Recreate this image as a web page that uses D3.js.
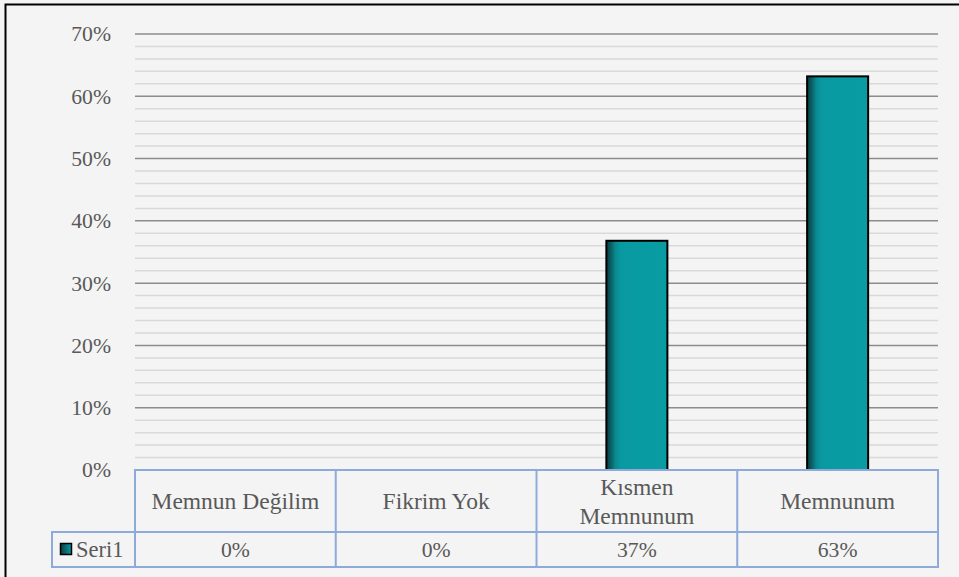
<!DOCTYPE html>
<html><head><meta charset="utf-8">
<script src="https://cdn.jsdelivr.net/npm/d3@7/dist/d3.min.js"></script>
<style>
html,body{margin:0;padding:0;background:#fff;}
svg{display:block;}
svg text{font-family:'Liberation Serif' !important;}
</style></head>
<body>
<svg id="chart" width="959" height="577"></svg>
<script>
const categories = ["Memnun Değilim", "Fikrim Yok", "Kısmen Memnunum", "Memnunum"];
const seriesName = "Seri1";
const values = [0, 0, 0.368, 0.632];
const valueLabels = ["0%", "0%", "37%", "63%"];
const yTicks = [0, 0.1, 0.2, 0.3, 0.4, 0.5, 0.6, 0.7];
const yMinorTicks = d3.range(0, 0.7001, 0.02);

(function(){
const FONT = "Liberation Serif";
const svg = d3.select("#chart");
const W = 959, H = 577;
const pLeft = 135, pRight = 938, pTop = 34, pBottom = 470;
const row1 = 532, row2 = 567, legendLeft = 52;
const fs = 21.7, fsCat = 23.5, fsLeg = 22.5;
const txt = (sel, size) => sel.attr("font-family",FONT).style("font-family",FONT).style("font-size",(size||fs)+"px").attr("fill","#595959");

svg.append("rect").attr("x",0).attr("y",0).attr("width",W).attr("height",H).attr("fill","#f4f4f4");
svg.append("rect").attr("x",5.5).attr("y",4.5).attr("width",1100).attr("height",1000)
  .attr("fill","none").attr("stroke","#000").attr("stroke-width",2);

const defs = svg.append("defs");
const g1 = defs.append("linearGradient").attr("id","barGrad").attr("x1","0%").attr("x2","100%").attr("y1","0%").attr("y2","0%");
[[0,"#0b3c40"],[0.07,"#0a5d62"],[0.15,"#0a8990"],[0.24,"#099aa1"],[1,"#099ca3"]].forEach(s=>g1.append("stop").attr("offset",s[0]).attr("stop-color",s[1]));

const y = d3.scaleLinear().domain([0,0.7]).range([pBottom, pTop]);
const x = d3.scaleBand().domain(categories).range([pLeft, pRight]).paddingInner(0.696).paddingOuter(0.348);
const xc = d3.scaleBand().domain(categories).range([pLeft, pRight]);

svg.append("g").selectAll("line").data(yMinorTicks.filter(t => Math.round(t*100)%10 !== 0)).join("line")
  .attr("x1",pLeft).attr("x2",pRight).attr("y1",d=>y(d)).attr("y2",d=>y(d))
  .attr("stroke","#d9d9d9").attr("stroke-width",1.5);
svg.append("g").selectAll("line").data(yTicks).join("line")
  .attr("x1",pLeft).attr("x2",pRight).attr("y1",d=>y(d)).attr("y2",d=>y(d))
  .attr("stroke","#8c8c8c").attr("stroke-width",1.5);

const yAxis = d3.axisLeft(y).tickValues(yTicks).tickFormat(d3.format(".0%")).tickSize(0).tickPadding(0);
const ya = svg.append("g").attr("transform",`translate(111,0)`).call(yAxis)
  .attr("font-family", FONT).attr("font-size", fs);
ya.select(".domain").remove();
ya.selectAll("text").call(txt, fs).attr("dy","0.32em");

svg.append("g").selectAll("rect").data(values).join("rect")
  .attr("x",(d,i)=>x(categories[i])).attr("width",x.bandwidth())
  .attr("y",d=>y(d)).attr("height",d=>pBottom - y(d))
  .attr("fill","url(#barGrad)").attr("stroke","#000").attr("stroke-width",2)
  .style("display",d=>d>0?null:"none");

const tb = svg.append("g").attr("font-family",FONT);
const tcol = "#8eaadb";
tb.append("rect").attr("x",pLeft).attr("y",pBottom).attr("width",pRight-pLeft).attr("height",row2-pBottom)
  .attr("fill","none").attr("stroke",tcol).attr("stroke-width",2);
tb.append("line").attr("x1",legendLeft).attr("x2",pRight).attr("y1",row1).attr("y2",row1).attr("stroke",tcol).attr("stroke-width",2);
tb.append("rect").attr("x",legendLeft).attr("y",row1).attr("width",pLeft-legendLeft).attr("height",row2-row1)
  .attr("fill","none").attr("stroke",tcol).attr("stroke-width",2);
tb.selectAll(".vl").data(categories.slice(1)).join("line").attr("class","vl")
  .attr("x1",d=>xc(d)).attr("x2",d=>xc(d)).attr("y1",pBottom).attr("y2",row2)
  .attr("stroke",tcol).attr("stroke-width",2);

categories.forEach((c,i)=>{
  const cx = xc(c) + xc.bandwidth()/2;
  const t = tb.append("text").call(txt, fsCat).attr("x",cx).attr("text-anchor","middle").text(c);
  const len = t.node().getComputedTextLength();
  const midY = (pBottom+row1)/2;
  if (len > xc.bandwidth() - 15) {
    const words = c.split(" ");
    t.text(null);
    const lh = 29;
    words.forEach((w,k)=>{
      t.append("tspan").attr("x",cx).attr("y", midY + (k - (words.length-1)/2)*lh).attr("dy","0.35em").text(w);
    });
  } else {
    t.attr("y",midY).attr("dy","0.35em");
  }
});
tb.selectAll(".val").data(valueLabels).join("text").attr("class","val").call(txt, fs)
  .attr("x",(d,i)=>xc(categories[i]) + xc.bandwidth()/2).attr("y",(row1+row2)/2).attr("dy","0.35em")
  .attr("text-anchor","middle").text(d=>d);
const g2 = defs.append("linearGradient").attr("id","legGrad").attr("x1","0%").attr("x2","100%");
[[0,"#0b3c40"],[1,"#099ca3"]].forEach(s=>g2.append("stop").attr("offset",s[0]).attr("stop-color",s[1]));
tb.append("rect").attr("x",60.5).attr("y",543.5).attr("width",11).attr("height",11)
  .attr("fill","url(#legGrad)").attr("stroke","#000").attr("stroke-width",1.5);
tb.append("text").call(txt, fsLeg).attr("x",76).attr("y",(row1+row2)/2).attr("dy","0.35em").text(seriesName);
})();
</script>
</body></html>
